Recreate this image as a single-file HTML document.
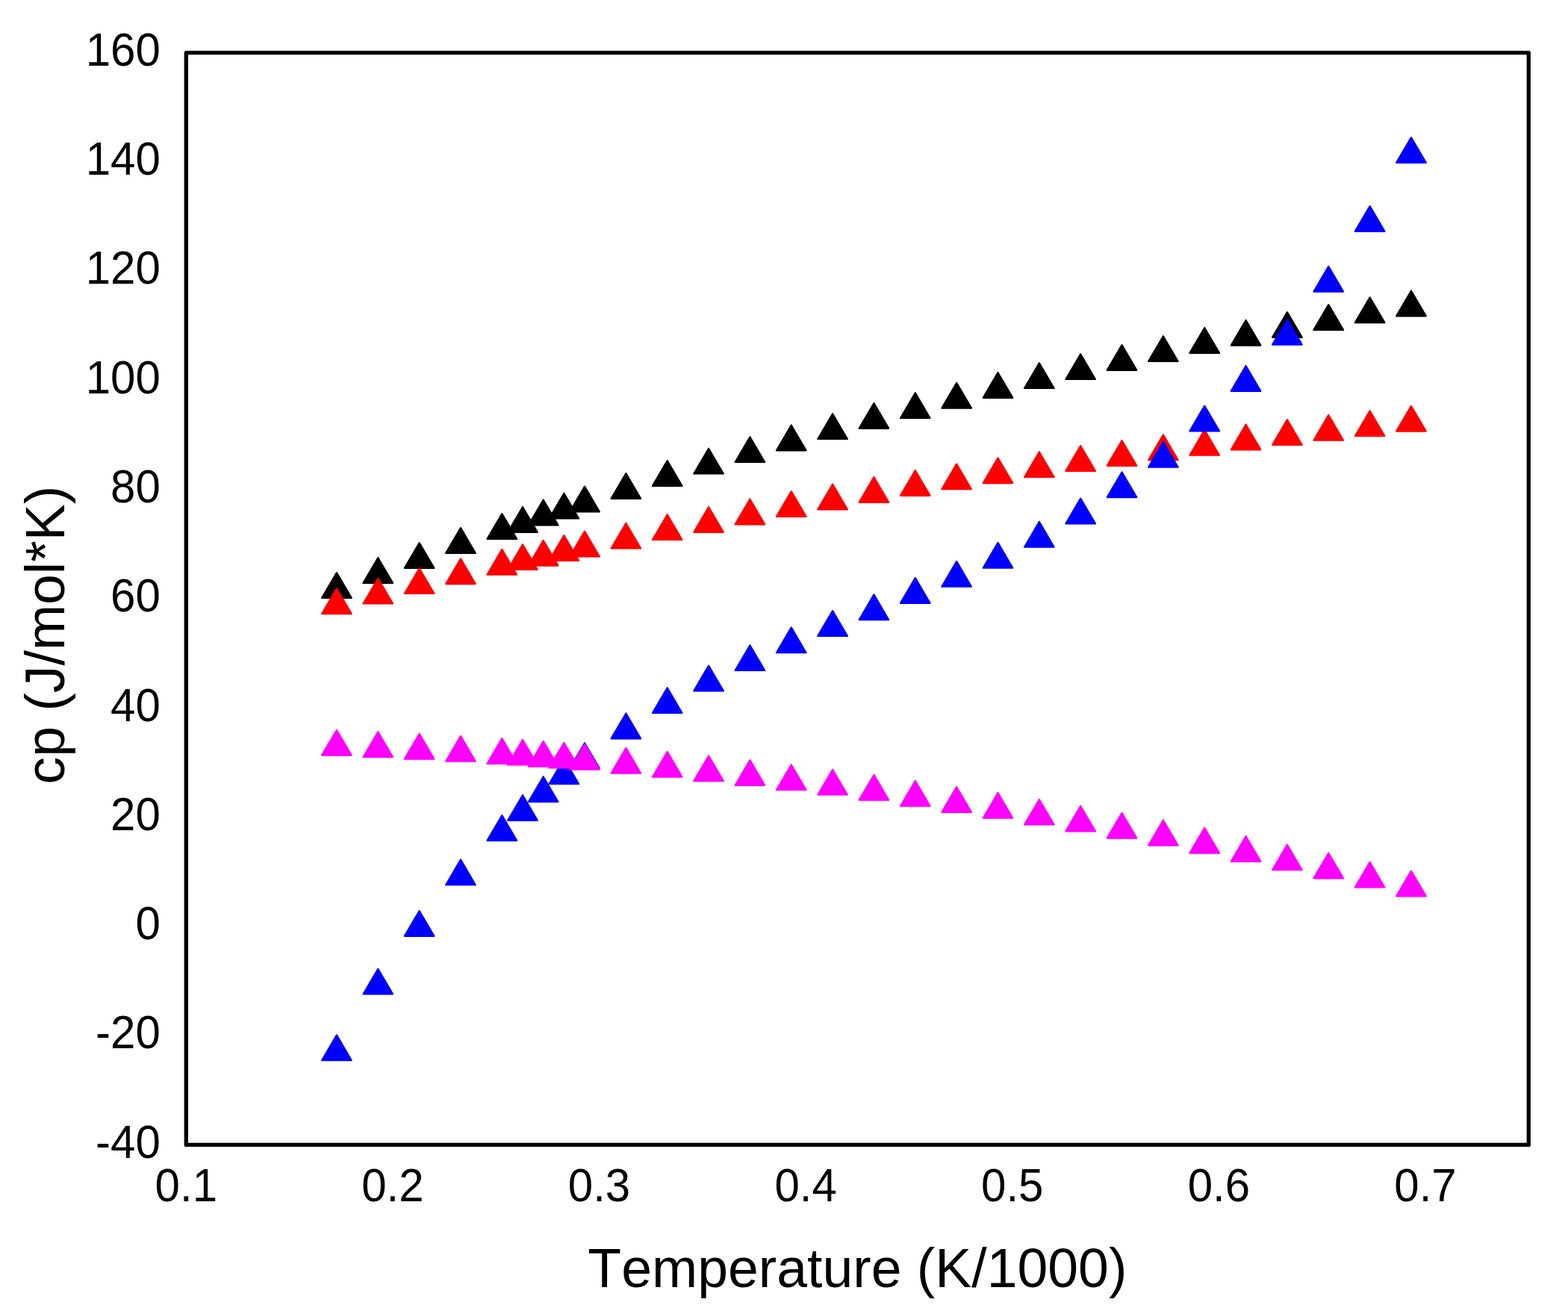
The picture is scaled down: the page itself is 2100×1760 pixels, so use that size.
<!DOCTYPE html>
<html lang="en">
<head>
<meta charset="utf-8">
<title>cp (J/mol*K) vs Temperature (K/1000)</title>
<style>
html,body{margin:0;padding:0;background:#fff;}
body{width:2100px;height:1760px;overflow:hidden;}
svg{display:block;}
text{font-family:"Liberation Sans",sans-serif;fill:#000;font-kerning:none;white-space:pre;}
.tick{font-size:60px;}
.title{font-size:73.4px;}
</style>
</head>
<body>
<svg width="2100" height="1760" viewBox="0 0 2100 1760">
<rect x="0" y="0" width="2100" height="1760" fill="#fff"/>
<g id="s-black" fill="#000000" stroke="#000000" stroke-width="2.2" stroke-linejoin="round">
<polygon points="431.12,800.90 470.72,800.90 450.92,767.10"/>
<polygon points="486.47,780.90 526.07,780.90 506.27,747.10"/>
<polygon points="541.82,760.90 581.42,760.90 561.62,727.10"/>
<polygon points="597.16,740.90 636.76,740.90 616.96,707.10"/>
<polygon points="652.51,721.90 692.11,721.90 672.31,688.10"/>
<polygon points="680.19,712.80 719.79,712.80 699.99,679.00"/>
<polygon points="707.86,703.30 747.46,703.30 727.66,669.50"/>
<polygon points="735.53,694.50 775.13,694.50 755.33,660.70"/>
<polygon points="763.21,685.40 802.81,685.40 783.01,651.60"/>
<polygon points="818.56,667.80 858.16,667.80 838.36,634.00"/>
<polygon points="873.90,650.90 913.50,650.90 893.70,617.10"/>
<polygon points="929.25,634.50 968.85,634.50 949.05,600.70"/>
<polygon points="984.60,619.00 1024.20,619.00 1004.40,585.20"/>
<polygon points="1039.95,603.30 1079.55,603.30 1059.75,569.50"/>
<polygon points="1095.30,588.00 1134.90,588.00 1115.10,554.20"/>
<polygon points="1150.64,573.80 1190.24,573.80 1170.44,540.00"/>
<polygon points="1205.99,560.00 1245.59,560.00 1225.79,526.20"/>
<polygon points="1261.34,546.60 1300.94,546.60 1281.14,512.80"/>
<polygon points="1316.69,532.80 1356.29,532.80 1336.49,499.00"/>
<polygon points="1372.04,520.00 1411.64,520.00 1391.84,486.20"/>
<polygon points="1427.38,508.00 1466.98,508.00 1447.18,474.20"/>
<polygon points="1482.73,495.90 1522.33,495.90 1502.53,462.10"/>
<polygon points="1538.08,484.00 1577.68,484.00 1557.88,450.20"/>
<polygon points="1593.43,472.80 1633.03,472.80 1613.23,439.00"/>
<polygon points="1648.78,462.60 1688.38,462.60 1668.58,428.80"/>
<polygon points="1704.12,451.90 1743.72,451.90 1723.92,418.10"/>
<polygon points="1759.47,441.90 1799.07,441.90 1779.27,408.10"/>
<polygon points="1814.82,432.10 1854.42,432.10 1834.62,398.30"/>
<polygon points="1870.17,423.30 1909.77,423.30 1889.97,389.50"/>
</g>
<g id="s-red" fill="#ff0000" stroke="#ff0000" stroke-width="2.2" stroke-linejoin="round">
<polygon points="431.12,822.10 470.72,822.10 450.92,788.30"/>
<polygon points="486.47,808.50 526.07,808.50 506.27,774.70"/>
<polygon points="541.82,795.00 581.42,795.00 561.62,761.20"/>
<polygon points="597.16,782.10 636.76,782.10 616.96,748.30"/>
<polygon points="652.51,769.70 692.11,769.70 672.31,735.90"/>
<polygon points="680.19,763.00 719.79,763.00 699.99,729.20"/>
<polygon points="707.86,757.60 747.46,757.60 727.66,723.80"/>
<polygon points="735.53,750.90 775.13,750.90 755.33,717.10"/>
<polygon points="763.21,745.40 802.81,745.40 783.01,711.60"/>
<polygon points="818.56,734.50 858.16,734.50 838.36,700.70"/>
<polygon points="873.90,723.00 913.50,723.00 893.70,689.20"/>
<polygon points="929.25,712.80 968.85,712.80 949.05,679.00"/>
<polygon points="984.60,702.30 1024.20,702.30 1004.40,668.50"/>
<polygon points="1039.95,691.90 1079.55,691.90 1059.75,658.10"/>
<polygon points="1095.30,682.30 1134.90,682.30 1115.10,648.50"/>
<polygon points="1150.64,672.80 1190.24,672.80 1170.44,639.00"/>
<polygon points="1205.99,663.80 1245.59,663.80 1225.79,630.00"/>
<polygon points="1261.34,655.20 1300.94,655.20 1281.14,621.40"/>
<polygon points="1316.69,647.10 1356.29,647.10 1336.49,613.30"/>
<polygon points="1372.04,639.00 1411.64,639.00 1391.84,605.20"/>
<polygon points="1427.38,630.90 1466.98,630.90 1447.18,597.10"/>
<polygon points="1482.73,623.80 1522.33,623.80 1502.53,590.00"/>
<polygon points="1538.08,616.10 1577.68,616.10 1557.88,582.30"/>
<polygon points="1593.43,609.70 1633.03,609.70 1613.23,575.90"/>
<polygon points="1648.78,602.30 1688.38,602.30 1668.58,568.50"/>
<polygon points="1704.12,595.90 1743.72,595.90 1723.92,562.10"/>
<polygon points="1759.47,589.70 1799.07,589.70 1779.27,555.90"/>
<polygon points="1814.82,584.00 1854.42,584.00 1834.62,550.20"/>
<polygon points="1870.17,577.60 1909.77,577.60 1889.97,543.80"/>
</g>
<g id="s-blue" fill="#0000ff" stroke="#0000ff" stroke-width="2.2" stroke-linejoin="round">
<polygon points="431.12,1420.20 470.72,1420.20 450.92,1386.40"/>
<polygon points="486.47,1331.50 526.07,1331.50 506.27,1297.70"/>
<polygon points="541.82,1253.80 581.42,1253.80 561.62,1220.00"/>
<polygon points="597.16,1185.20 636.76,1185.20 616.96,1151.40"/>
<polygon points="652.51,1125.90 692.11,1125.90 672.31,1092.10"/>
<polygon points="680.19,1098.80 719.79,1098.80 699.99,1065.00"/>
<polygon points="707.86,1074.00 747.46,1074.00 727.66,1040.20"/>
<polygon points="735.53,1050.00 775.13,1050.00 755.33,1016.20"/>
<polygon points="763.21,1029.00 802.81,1029.00 783.01,995.20"/>
<polygon points="818.56,989.30 858.16,989.30 838.36,955.50"/>
<polygon points="873.90,955.00 913.50,955.00 893.70,921.20"/>
<polygon points="929.25,925.40 968.85,925.40 949.05,891.60"/>
<polygon points="984.60,898.00 1024.20,898.00 1004.40,864.20"/>
<polygon points="1039.95,874.20 1079.55,874.20 1059.75,840.40"/>
<polygon points="1095.30,851.90 1134.90,851.90 1115.10,818.10"/>
<polygon points="1150.64,830.20 1190.24,830.20 1170.44,796.40"/>
<polygon points="1205.99,807.80 1245.59,807.80 1225.79,774.00"/>
<polygon points="1261.34,785.70 1300.94,785.70 1281.14,751.90"/>
<polygon points="1316.69,760.70 1356.29,760.70 1336.49,726.90"/>
<polygon points="1372.04,732.70 1411.64,732.70 1391.84,698.90"/>
<polygon points="1427.38,701.40 1466.98,701.40 1447.18,667.60"/>
<polygon points="1482.73,666.10 1522.33,666.10 1502.53,632.30"/>
<polygon points="1538.08,625.70 1577.68,625.70 1557.88,591.90"/>
<polygon points="1593.43,577.40 1633.03,577.40 1613.23,543.60"/>
<polygon points="1648.78,523.80 1688.38,523.80 1668.58,490.00"/>
<polygon points="1704.12,461.60 1743.72,461.60 1723.92,427.80"/>
<polygon points="1759.47,390.60 1799.07,390.60 1779.27,356.80"/>
<polygon points="1814.82,309.90 1854.42,309.90 1834.62,276.10"/>
<polygon points="1870.17,217.90 1909.77,217.90 1889.97,184.10"/>
</g>
<g id="s-magenta" fill="#ff00ff" stroke="#ff00ff" stroke-width="2.2" stroke-linejoin="round">
<polygon points="431.12,1011.60 470.72,1011.60 450.92,977.80"/>
<polygon points="486.47,1014.00 526.07,1014.00 506.27,980.20"/>
<polygon points="541.82,1016.60 581.42,1016.60 561.62,982.80"/>
<polygon points="597.16,1019.70 636.76,1019.70 616.96,985.90"/>
<polygon points="652.51,1022.80 692.11,1022.80 672.31,989.00"/>
<polygon points="680.19,1024.50 719.79,1024.50 699.99,990.70"/>
<polygon points="707.86,1026.60 747.46,1026.60 727.66,992.80"/>
<polygon points="735.53,1028.50 775.13,1028.50 755.33,994.70"/>
<polygon points="763.21,1030.70 802.81,1030.70 783.01,996.90"/>
<polygon points="818.56,1035.70 858.16,1035.70 838.36,1001.90"/>
<polygon points="873.90,1040.70 913.50,1040.70 893.70,1006.90"/>
<polygon points="929.25,1046.10 968.85,1046.10 949.05,1012.30"/>
<polygon points="984.60,1051.90 1024.20,1051.90 1004.40,1018.10"/>
<polygon points="1039.95,1058.00 1079.55,1058.00 1059.75,1024.20"/>
<polygon points="1095.30,1064.50 1134.90,1064.50 1115.10,1030.70"/>
<polygon points="1150.64,1071.60 1190.24,1071.60 1170.44,1037.80"/>
<polygon points="1205.99,1079.70 1245.59,1079.70 1225.79,1045.90"/>
<polygon points="1261.34,1087.80 1300.94,1087.80 1281.14,1054.00"/>
<polygon points="1316.69,1095.70 1356.29,1095.70 1336.49,1061.90"/>
<polygon points="1372.04,1104.50 1411.64,1104.50 1391.84,1070.70"/>
<polygon points="1427.38,1113.30 1466.98,1113.30 1447.18,1079.50"/>
<polygon points="1482.73,1122.60 1522.33,1122.60 1502.53,1088.80"/>
<polygon points="1538.08,1132.30 1577.68,1132.30 1557.88,1098.50"/>
<polygon points="1593.43,1142.60 1633.03,1142.60 1613.23,1108.80"/>
<polygon points="1648.78,1153.80 1688.38,1153.80 1668.58,1120.00"/>
<polygon points="1704.12,1165.20 1743.72,1165.20 1723.92,1131.40"/>
<polygon points="1759.47,1176.40 1799.07,1176.40 1779.27,1142.60"/>
<polygon points="1814.82,1188.50 1854.42,1188.50 1834.62,1154.70"/>
<polygon points="1870.17,1200.40 1909.77,1200.40 1889.97,1166.60"/>
</g>
<rect x="249.3" y="70.7" width="1798.00" height="1462.70" fill="none" stroke="#000" stroke-width="5.3" stroke-linejoin="round"/>
<g class="tick" text-anchor="end">
<text transform="translate(214.8,87.90) scale(1,1.044)">160</text>
<text transform="translate(214.8,234.17) scale(1,1.044)">140</text>
<text transform="translate(214.8,380.44) scale(1,1.044)">120</text>
<text transform="translate(214.8,526.71) scale(1,1.044)">100</text>
<text transform="translate(214.8,672.98) scale(1,1.044)">80</text>
<text transform="translate(214.8,819.25) scale(1,1.044)">60</text>
<text transform="translate(214.8,965.52) scale(1,1.044)">40</text>
<text transform="translate(214.8,1111.79) scale(1,1.044)">20</text>
<text transform="translate(214.8,1258.06) scale(1,1.044)">0</text>
<text transform="translate(214.8,1404.33) scale(1,1.044)">-20</text>
<text transform="translate(214.8,1550.60) scale(1,1.044)">-40</text>
</g>
<g class="tick" text-anchor="middle">
<text transform="translate(249.30,1609.3) scale(1,1.044)">0.1</text>
<text transform="translate(525.92,1609.3) scale(1,1.044)">0.2</text>
<text transform="translate(802.53,1609.3) scale(1,1.044)">0.3</text>
<text transform="translate(1079.15,1609.3) scale(1,1.044)">0.4</text>
<text transform="translate(1355.76,1609.3) scale(1,1.044)">0.5</text>
<text transform="translate(1632.38,1609.3) scale(1,1.044)">0.6</text>
<text transform="translate(1908.99,1609.3) scale(1,1.044)">0.7</text>
</g>
<text id="xtitle" class="title" text-anchor="middle" transform="translate(1148.35,1723.7) scale(1,1.02)">Temperature (K/1000)</text>
<text id="ytitle" class="title" text-anchor="middle" transform="translate(86.0,850.7) rotate(-90) scale(1,1.02)">cp (J/mol*K)</text>
</svg>
</body>
</html>
